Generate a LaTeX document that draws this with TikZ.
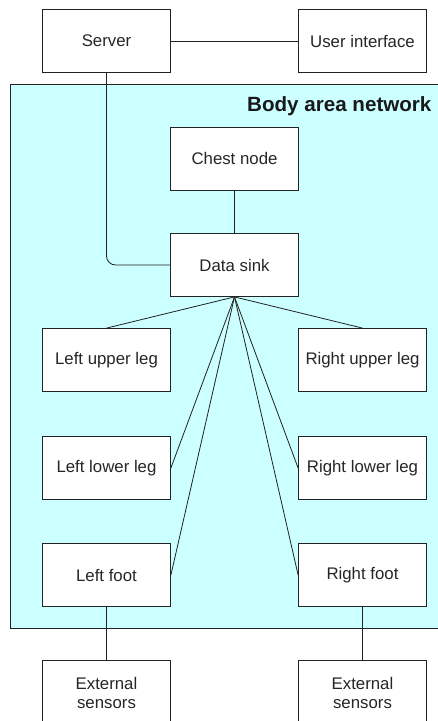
\documentclass[tikz,border=0pt]{standalone}
\usepackage{fontspec}
\setmainfont{Liberation Sans}
\definecolor{banfill}{HTML}{CCFFFF}
\definecolor{linec}{HTML}{222222}
\begin{document}
\begin{tikzpicture}[x=1pt,y=-1pt,
  box/.style={draw=linec,fill=white,line width=0.8pt,minimum width=128pt,minimum height=63pt,inner sep=0pt,font=\fontsize{16.8}{19}\selectfont,align=center,text=black!85},
  conn/.style={draw=linec,line width=0.8pt}]
\useasboundingbox (0,0) rectangle (438,721);
\begin{scope}
\clip (0,0) rectangle (438,721);
\fill[banfill,draw=linec,line width=0.8pt] (10,84) rectangle (448,628);
\node[anchor=base east,font=\bfseries\fontsize{20.6}{23}\selectfont,text=black!90] (title) at (435,111.5) {Body area network};
\node[box] (server) at (106.5,41) {Server};
\node[box] (ui) at (362.5,41) {User interface};
\node[box] (chest) at (234.5,158.5) {Chest node};
\node[box] (sink) at (234.5,265) {Data sink};
\node[box] (lul) at (106.5,360) {Left upper leg};
\node[box] (rul) at (362.5,360) {Right upper leg};
\node[box] (lll) at (106.5,468) {Left lower leg};
\node[box] (rll) at (362.5,468) {Right lower leg};
\node[box] (lf) at (106.5,575) {Left foot};
\node[box] (rf) at (362.5,575) {Right foot};
\node[box,minimum height=66pt] (les) at (106.5,693) {External\\sensors};
\node[box,minimum height=66pt] (res) at (362.5,693) {External\\sensors};
\draw[conn] (server) -- (ui);
\draw[conn,rounded corners=9pt] (server.south) |- (sink.west);
\draw[conn] (chest) -- (sink);
\draw[conn] (sink.south) -- (lul.north);
\draw[conn] (sink.south) -- (rul.north);
\draw[conn] (sink.south) -- (lll.east);
\draw[conn] (sink.south) -- (rll.west);
\draw[conn] (sink.south) -- (lf.east);
\draw[conn] (sink.south) -- (rf.west);
\draw[conn] (lf) -- (les);
\draw[conn] (rf) -- (res);
\end{scope}
\end{tikzpicture}
\end{document}
